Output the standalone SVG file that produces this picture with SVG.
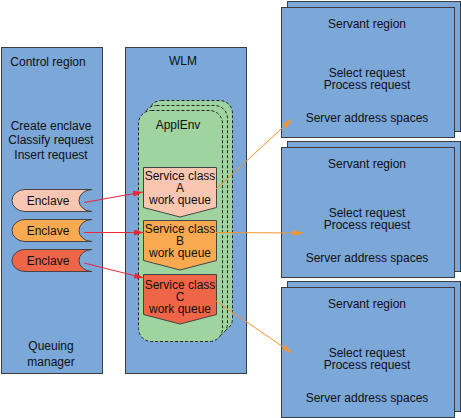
<svg xmlns="http://www.w3.org/2000/svg" width="461" height="418" viewBox="0 0 461 418">
<defs>
<marker id="ar" viewBox="0 0 10 6" refX="10" refY="3" markerWidth="10" markerHeight="6" markerUnits="userSpaceOnUse" orient="auto"><path d="M0,0 L10,3 L0,6 z" fill="#e8283a"/></marker>
<marker id="ao" viewBox="0 0 10 6" refX="10" refY="3" markerWidth="10" markerHeight="6" markerUnits="userSpaceOnUse" orient="auto"><path d="M0,0 L10,3 L0,6 z" fill="#f5962a"/></marker>
</defs>
<style>
.box{fill:#7ba7d9;stroke:#3c3c3c;stroke-width:1}
.env{fill:#9fd39f;stroke:#222;stroke-width:1;stroke-dasharray:3 2}
.t{font-family:"Liberation Sans",Arial,sans-serif;font-size:12px;fill:#111;text-anchor:middle}
.q{stroke:#444;stroke-width:1}
.red{stroke:#e8283a;stroke-width:1;fill:none;marker-end:url(#ar)}
.org{stroke:#f5962a;stroke-width:1;fill:none;marker-end:url(#ao)}
</style>
<rect width="461" height="418" fill="#fff"/>
<g id="control">
<rect class="box" x="1.5" y="47.5" width="101" height="326"/>
<text class="t" x="48" y="66">Control region</text>
<text class="t" x="51" y="130">Create enclave</text>
<text class="t" x="51" y="144">Classify request</text>
<text class="t" x="51" y="159">Insert request</text>
<text class="t" x="51" y="350">Queuing</text>
<text class="t" x="51" y="366">manager</text>
</g>
<g id="enclave1">
<path class="q" fill="#f9c6b2" d="M25,189.5 L92,189.5 A13,11 0 0 0 92,211.5 L25,211.5 A13,11 0 0 1 25,189.5 Z"/>
<text class="t" x="48" y="205">Enclave</text>
</g>
<g id="enclave2">
<path class="q" fill="#f9a94f" d="M25,219.5 L92,219.5 A13,11 0 0 0 92,241.5 L25,241.5 A13,11 0 0 1 25,219.5 Z"/>
<text class="t" x="48" y="235">Enclave</text>
</g>
<g id="enclave3">
<path class="q" fill="#ef6548" d="M25,249.5 L92,249.5 A13,11 0 0 0 92,271.5 L25,271.5 A13,11 0 0 1 25,249.5 Z"/>
<text class="t" x="48" y="265">Enclave</text>
</g>
<g id="wlm">
<rect class="box" x="125.5" y="47.5" width="121" height="326"/>
<text class="t" x="183" y="65">WLM</text>
</g>
<g id="applenv">
<rect class="env" x="148.5" y="100.5" width="84" height="231" rx="13"/>
<rect class="env" x="143.5" y="105.5" width="84" height="231" rx="13"/>
<rect class="env" x="138.5" y="110.5" width="84" height="231" rx="13"/>
<text class="t" x="178" y="129">ApplEnv</text>
</g>
<g id="queueA">
<path class="q" fill="#f9c6b2" d="M143.5,167.5 H216.5 V207.5 L180,217 L143.5,207.5 Z"/>
<text class="t" x="180" y="180">Service class</text>
<text class="t" x="180" y="192">A</text>
<text class="t" x="180" y="204">work queue</text>
</g>
<g id="queueB">
<path class="q" fill="#f9a94f" d="M143.5,220.5 H216.5 V260.5 L180,270 L143.5,260.5 Z"/>
<text class="t" x="180" y="233">Service class</text>
<text class="t" x="180" y="245">B</text>
<text class="t" x="180" y="257">work queue</text>
</g>
<g id="queueC">
<path class="q" fill="#ef6548" d="M143.5,274.5 H216.5 V314.5 L180,324 L143.5,314.5 Z"/>
<text class="t" x="180" y="289">Service class</text>
<text class="t" x="180" y="301">C</text>
<text class="t" x="180" y="313">work queue</text>
</g>
<g id="servant1">
<rect class="box" x="287.5" y="1.5" width="173" height="130"/>
<rect class="box" x="281.5" y="7.5" width="173" height="130"/>
<text class="t" x="367" y="28">Servant region</text>
<text class="t" x="367" y="77">Select request</text>
<text class="t" x="367" y="89">Process request</text>
<text class="t" x="367" y="122">Server address spaces</text>
</g>
<g id="servant2">
<rect class="box" x="287.5" y="141.5" width="173" height="130"/>
<rect class="box" x="281.5" y="147.5" width="173" height="130"/>
<text class="t" x="367" y="168">Servant region</text>
<text class="t" x="367" y="217">Select request</text>
<text class="t" x="367" y="229">Process request</text>
<text class="t" x="367" y="262">Server address spaces</text>
</g>
<g id="servant3">
<rect class="box" x="287.5" y="281.5" width="173" height="130"/>
<rect class="box" x="281.5" y="287.5" width="173" height="130"/>
<text class="t" x="367" y="308">Servant region</text>
<text class="t" x="367" y="357">Select request</text>
<text class="t" x="367" y="369">Process request</text>
<text class="t" x="367" y="402">Server address spaces</text>
</g>
<g id="connectors">
<line class="red" x1="84" y1="202.5" x2="143" y2="192"/>
<line class="red" x1="84" y1="232.5" x2="144" y2="232.5"/>
<line class="red" x1="84" y1="263" x2="144" y2="278"/>
<line class="org" x1="216" y1="189" x2="292" y2="119"/>
<line class="org" x1="216" y1="232.5" x2="303" y2="233"/>
<line class="org" x1="216" y1="301" x2="292" y2="353"/>
</g>
</svg>
